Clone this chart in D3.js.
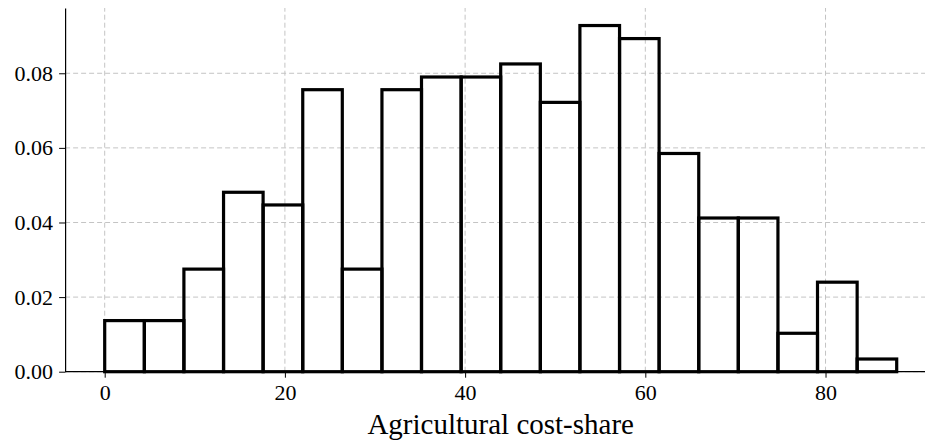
<!DOCTYPE html>
<html>
<head>
<meta charset="utf-8">
<script src="https://cdn.jsdelivr.net/npm/d3@7"></script>
<style>
  body { margin: 0; background: #fff; }
  svg { display: block; }
</style>
</head>
<body>
<svg id="chart"></svg>
<script>
// Histogram bin edges (agricultural cost-share, %)
const binEdges = [0, 4.40, 8.79, 13.19, 17.58, 21.98, 26.37, 30.77, 35.16, 39.56, 43.95,
                  48.35, 52.74, 57.14, 61.53, 65.93, 70.32, 74.72, 79.11, 83.51, 87.90];
// Density per bin
const densities = [0.0137, 0.0137, 0.0275, 0.0481, 0.0447, 0.0756, 0.0275, 0.0756, 0.0790, 0.0790,
                   0.0825, 0.0722, 0.0928, 0.0893, 0.0585, 0.0412, 0.0412, 0.0103, 0.0240, 0.0034];
const xTicks = [0, 20, 40, 60, 80];
const yTicks = [0, 0.02, 0.04, 0.06, 0.08];
const xLabel = 'Agricultural cost-share';

const width = 925;
const height = 443;
const serif = '"Liberation Serif", "DejaVu Serif", serif';

const svg = d3.select('#chart')
    .attr('width', width)
    .attr('height', height);

// Scales
const x = d3.scaleLinear().domain([-4.395, 92.295]).range([65.1, 936.3]);
const y = d3.scaleLinear().domain([0, 0.0975]).range([371.7, 8]);

const bins = densities.map((d, i) => ({ x0: binEdges[i], x1: binEdges[i + 1], value: d }));

// Grid lines
const grid = svg.append('g')
    .attr('stroke', '#c4c4c4')
    .attr('stroke-width', 1)
    .attr('stroke-dasharray', '5,3');

grid.selectAll('.vgrid')
    .data(xTicks)
    .join('line')
    .attr('class', 'vgrid')
    .attr('x1', d => x(d)).attr('x2', d => x(d))
    .attr('y1', y.range()[0]).attr('y2', y.range()[1]);

grid.selectAll('.hgrid')
    .data(yTicks)
    .join('line')
    .attr('class', 'hgrid')
    .attr('x1', x.range()[0]).attr('x2', width)
    .attr('y1', d => y(d)).attr('y2', d => y(d));

// Bars
svg.selectAll('.bar')
    .data(bins)
    .join('rect')
    .attr('class', 'bar')
    .attr('x', d => x(d.x0))
    .attr('y', d => y(d.value))
    .attr('width', d => x(d.x1) - x(d.x0))
    .attr('height', d => y(0) - y(d.value))
    .attr('fill', 'none')
    .attr('stroke', '#000')
    .attr('stroke-width', 3.2);

// Axes
const xAxis = svg.append('g')
    .attr('transform', `translate(0,${y(0)})`)
    .call(d3.axisBottom(x).tickValues(xTicks).tickFormat(d3.format('d')).tickSize(6).tickPadding(7).tickSizeOuter(0))
    .attr('font-family', serif)
    .attr('font-size', 22);
xAxis.select('.domain').attr('d', `M${x.range()[0]},0H${width}`).attr('stroke-width', 1.2);
xAxis.selectAll('.tick text')
    .style('font-family', serif).attr('font-size', 22).attr('fill', '#000');

const yAxis = svg.append('g')
    .attr('transform', `translate(${x.range()[0]},0)`)
    .call(d3.axisLeft(y).tickValues(yTicks).tickFormat(d3.format('.2f')).tickSize(6).tickPadding(6).tickSizeOuter(0))
    .attr('font-family', serif)
    .attr('font-size', 22);
yAxis.select('.domain').attr('stroke-width', 1.2);
yAxis.selectAll('.tick text')
    .style('font-family', serif).attr('font-size', 22).attr('fill', '#000');

// Axis label
svg.append('text')
    .attr('x', (x.range()[0] + x.range()[1]) / 2)
    .attr('y', 434)
    .attr('text-anchor', 'middle')
    .attr('font-family', serif)
    .attr('font-size', 29)
    .text(xLabel);
</script>
</body>
</html>
